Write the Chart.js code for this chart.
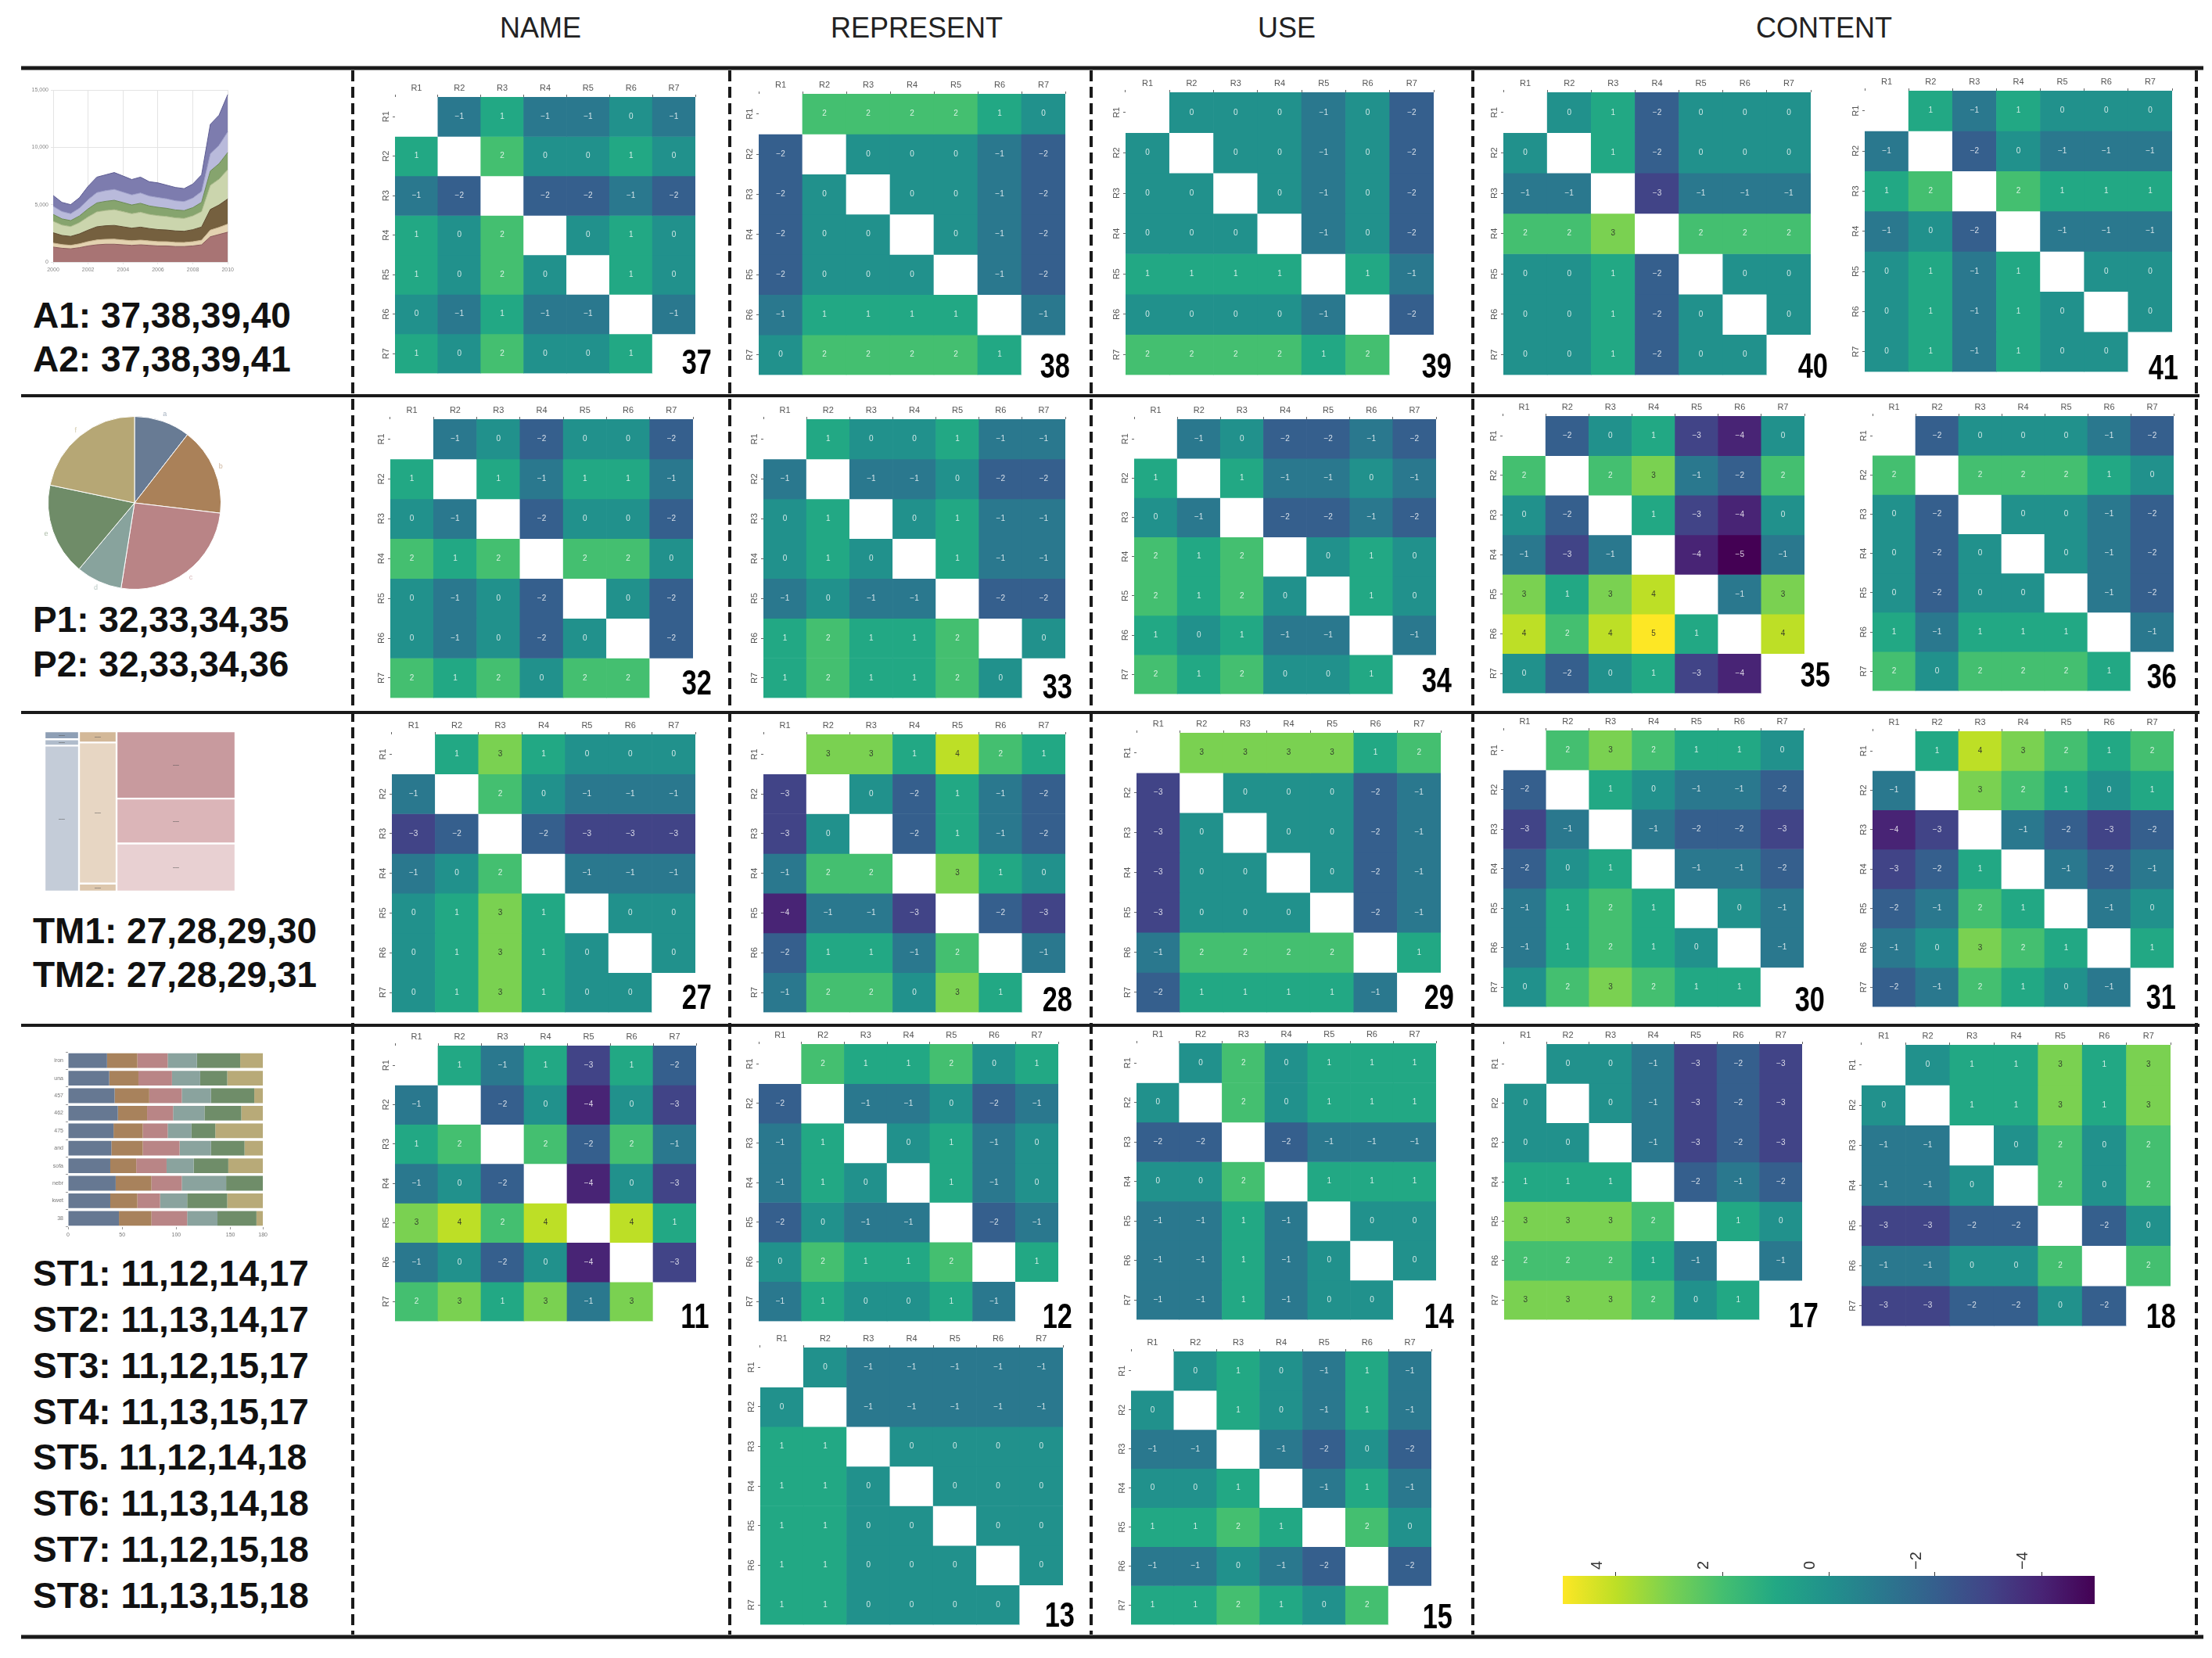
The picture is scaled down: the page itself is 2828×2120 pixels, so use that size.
<!DOCTYPE html>
<html>
<head>
<meta charset="utf-8">
<script src="https://cdn.jsdelivr.net/npm/chart.js@4.4.1/dist/chart.umd.min.js"></script>
<style>
  html, body { margin: 0; padding: 0; background: #fff; }
  body { position: relative; width: 2828px; height: 2120px; overflow: hidden; font-family: 'Liberation Sans', Arial, sans-serif; }
  canvas { position: absolute; }
  .head { position: absolute; top: 18px; font-size: 36px; line-height: 1; color: #222; transform: translateX(-50%); white-space: nowrap; }
  .combo { position: absolute; left: 42px; font-size: 46px; line-height: 1; font-weight: bold; color: #111; white-space: nowrap; }
  .num { position: absolute; font-size: 44px; line-height: 1; font-weight: bold; color: #000; transform-origin: right bottom; transform: scaleX(0.78); }
  svg { position: absolute; left: 0; top: 0; }
</style>
</head>
<body>
<svg width="2828" height="2120">
  <g stroke="#1a1a1a">
    <line x1="27" y1="87" x2="2817" y2="87" stroke-width="5"/>
    <line x1="27" y1="506" x2="2812" y2="506" stroke-width="4"/>
    <line x1="27" y1="911" x2="2812" y2="911" stroke-width="4"/>
    <line x1="27" y1="1311" x2="2812" y2="1311" stroke-width="4"/>
    <line x1="27" y1="2093" x2="2817" y2="2093" stroke-width="5"/>
  </g>
  <g stroke="#1a1a1a" stroke-width="4" stroke-dasharray="14 7">
    <line x1="451" y1="90" x2="451" y2="2090"/>
    <line x1="933" y1="90" x2="933" y2="2090"/>
    <line x1="1395" y1="90" x2="1395" y2="2090"/>
    <line x1="1883" y1="90" x2="1883" y2="2090"/>
    <line x1="2808" y1="90" x2="2808" y2="2090"/>
  </g>
</svg>
<script>
// ---- heatmap values (rows R1..R7, columns R1..R7, null = diagonal) ----
const gridLabels = ['R1', 'R2', 'R3', 'R4', 'R5', 'R6', 'R7'];

const hm37 = [[null,-1,1,-1,-1,0,-1],[1,null,2,0,0,1,0],[-1,-2,null,-2,-2,-1,-2],[1,0,2,null,0,1,0],[1,0,2,0,null,1,0],[0,-1,1,-1,-1,null,-1],[1,0,2,0,0,1,null]];
const hm38 = [[null,2,2,2,2,1,0],[-2,null,0,0,0,-1,-2],[-2,0,null,0,0,-1,-2],[-2,0,0,null,0,-1,-2],[-2,0,0,0,null,-1,-2],[-1,1,1,1,1,null,-1],[0,2,2,2,2,1,null]];
const hm39 = [[null,0,0,0,-1,0,-2],[0,null,0,0,-1,0,-2],[0,0,null,0,-1,0,-2],[0,0,0,null,-1,0,-2],[1,1,1,1,null,1,-1],[0,0,0,0,-1,null,-2],[2,2,2,2,1,2,null]];
const hm40 = [[null,0,1,-2,0,0,0],[0,null,1,-2,0,0,0],[-1,-1,null,-3,-1,-1,-1],[2,2,3,null,2,2,2],[0,0,1,-2,null,0,0],[0,0,1,-2,0,null,0],[0,0,1,-2,0,0,null]];
const hm41 = [[null,1,-1,1,0,0,0],[-1,null,-2,0,-1,-1,-1],[1,2,null,2,1,1,1],[-1,0,-2,null,-1,-1,-1],[0,1,-1,1,null,0,0],[0,1,-1,1,0,null,0],[0,1,-1,1,0,0,null]];

const hm32 = [[null,-1,0,-2,0,0,-2],[1,null,1,-1,1,1,-1],[0,-1,null,-2,0,0,-2],[2,1,2,null,2,2,0],[0,-1,0,-2,null,0,-2],[0,-1,0,-2,0,null,-2],[2,1,2,0,2,2,null]];
const hm33 = [[null,1,0,0,1,-1,-1],[-1,null,-1,-1,0,-2,-2],[0,1,null,0,1,-1,-1],[0,1,0,null,1,-1,-1],[-1,0,-1,-1,null,-2,-2],[1,2,1,1,2,null,0],[1,2,1,1,2,0,null]];
const hm34 = [[null,-1,0,-2,-2,-1,-2],[1,null,1,-1,-1,0,-1],[0,-1,null,-2,-2,-1,-2],[2,1,2,null,0,1,0],[2,1,2,0,null,1,0],[1,0,1,-1,-1,null,-1],[2,1,2,0,0,1,null]];
const hm35 = [[null,-2,0,1,-3,-4,0],[2,null,2,3,-1,-2,2],[0,-2,null,1,-3,-4,0],[-1,-3,-1,null,-4,-5,-1],[3,1,3,4,null,-1,3],[4,2,4,5,1,null,4],[0,-2,0,1,-3,-4,null]];
const hm36 = [[null,-2,0,0,0,-1,-2],[2,null,2,2,2,1,0],[0,-2,null,0,0,-1,-2],[0,-2,0,null,0,-1,-2],[0,-2,0,0,null,-1,-2],[1,-1,1,1,1,null,-1],[2,0,2,2,2,1,null]];

const hm27 = [[null,1,3,1,0,0,0],[-1,null,2,0,-1,-1,-1],[-3,-2,null,-2,-3,-3,-3],[-1,0,2,null,-1,-1,-1],[0,1,3,1,null,0,0],[0,1,3,1,0,null,0],[0,1,3,1,0,0,null]];
const hm28 = [[null,3,3,1,4,2,1],[-3,null,0,-2,1,-1,-2],[-3,0,null,-2,1,-1,-2],[-1,2,2,null,3,1,0],[-4,-1,-1,-3,null,-2,-3],[-2,1,1,-1,2,null,-1],[-1,2,2,0,3,1,null]];
const hm29 = [[null,3,3,3,3,1,2],[-3,null,0,0,0,-2,-1],[-3,0,null,0,0,-2,-1],[-3,0,0,null,0,-2,-1],[-3,0,0,0,null,-2,-1],[-1,2,2,2,2,null,1],[-2,1,1,1,1,-1,null]];
const hm30 = [[null,2,3,2,1,1,0],[-2,null,1,0,-1,-1,-2],[-3,-1,null,-1,-2,-2,-3],[-2,0,1,null,-1,-1,-2],[-1,1,2,1,null,0,-1],[-1,1,2,1,0,null,-1],[0,2,3,2,1,1,null]];
const hm31 = [[null,1,4,3,2,1,2],[-1,null,3,2,1,0,1],[-4,-3,null,-1,-2,-3,-2],[-3,-2,1,null,-1,-2,-1],[-2,-1,2,1,null,-1,0],[-1,0,3,2,1,null,1],[-2,-1,2,1,0,-1,null]];

const hm11 = [[null,1,-1,1,-3,1,-2],[-1,null,-2,0,-4,0,-3],[1,2,null,2,-2,2,-1],[-1,0,-2,null,-4,0,-3],[3,4,2,4,null,4,1],[-1,0,-2,0,-4,null,-3],[2,3,1,3,-1,3,null]];
const hm12 = [[null,2,1,1,2,0,1],[-2,null,-1,-1,0,-2,-1],[-1,1,null,0,1,-1,0],[-1,1,0,null,1,-1,0],[-2,0,-1,-1,null,-2,-1],[0,2,1,1,2,null,1],[-1,1,0,0,1,-1,null]];
const hm13 = [[null,0,-1,-1,-1,-1,-1],[0,null,-1,-1,-1,-1,-1],[1,1,null,0,0,0,0],[1,1,0,null,0,0,0],[1,1,0,0,null,0,0],[1,1,0,0,0,null,0],[1,1,0,0,0,0,null]];
const hm14 = [[null,0,2,0,1,1,1],[0,null,2,0,1,1,1],[-2,-2,null,-2,-1,-1,-1],[0,0,2,null,1,1,1],[-1,-1,1,-1,null,0,0],[-1,-1,1,-1,0,null,0],[-1,-1,1,-1,0,0,null]];
const hm15 = [[null,0,1,0,-1,1,-1],[0,null,1,0,-1,1,-1],[-1,-1,null,-1,-2,0,-2],[0,0,1,null,-1,1,-1],[1,1,2,1,null,2,0],[-1,-1,0,-1,-2,null,-2],[1,1,2,1,0,2,null]];
const hm17 = [[null,0,0,-1,-3,-2,-3],[0,null,0,-1,-3,-2,-3],[0,0,null,-1,-3,-2,-3],[1,1,1,null,-2,-1,-2],[3,3,3,2,null,1,0],[2,2,2,1,-1,null,-1],[3,3,3,2,0,1,null]];
const hm18 = [[null,0,1,1,3,1,3],[0,null,1,1,3,1,3],[-1,-1,null,0,2,0,2],[-1,-1,0,null,2,0,2],[-3,-3,-2,-2,null,-2,0],[-1,-1,0,0,2,null,2],[-3,-3,-2,-2,0,-2,null]];

// ---- thumbnail data ----
const areaYears = [2000,2000.5,2001,2001.5,2002,2002.5,2003,2003.5,2004,2004.5,2005,2005.5,2006,2006.5,2007,2007.5,2008,2008.5,2009,2009.5,2010];
const areaRose     = [1300,1200,1150,1250,1400,1500,1550,1550,1500,1450,1500,1450,1400,1400,1350,1350,1400,1500,2200,2400,2600];
const areaBeige    = [350,320,300,330,380,420,430,440,420,400,410,390,380,370,360,350,370,400,580,620,700];
const areaBrown    = [900,800,780,870,1000,1150,1180,1200,1150,1100,1130,1080,1050,1020,1000,980,1050,1150,1800,1950,2200];
const areaPale     = [1000,900,860,980,1150,1300,1330,1370,1320,1260,1300,1230,1210,1180,1140,1120,1200,1350,2100,2250,2550];
const areaGreen    = [600,540,520,580,700,780,800,820,790,760,780,740,730,710,690,680,720,800,1250,1350,1500];
const areaLavender = [700,640,600,680,800,900,930,950,910,880,900,860,850,830,800,790,840,950,1500,1600,1800];
const areaPurple   = [950,800,790,910,1170,1350,1380,1470,1410,1340,1380,1250,1280,1190,1160,1130,1220,1450,2570,2630,3250];

const pieLabels = ['a', 'b', 'c', 'd', 'e', 'f'];
const pieValues = [10.5, 16.4, 25.6, 8.6, 17.2, 21.7];

const tmCol1 = [5, 4, 91];
const tmCol2 = [7, 88, 5];
const tmCol3 = [42, 28, 30];

const stLabels = ['iron', 'una', '457', '462', '475', 'and', 'sofa', 'nebr', 'kwet', '38'];
const stSlate = [36, 38, 43, 46, 42, 40, 39, 44, 39, 47];
const stBrown = [28, 27, 32, 27, 27, 29, 24, 33, 25, 30];
const stPink  = [28, 31, 30, 24, 23, 34, 28, 28, 21, 33];
const stTeal  = [27, 26, 27, 29, 22, 29, 25, 41, 25, 28];
const stGreen = [40, 25, 40, 34, 22, 31, 32, 34, 37, 36];
const stKhaki = [21, 33, 8, 20, 44, 17, 32, 0, 33, 6];

const cbarTicks = [4, 2, 0, -2, -4];

// ---- page furniture ----
const FONT = "'Liberation Sans', Arial, sans-serif";
Chart.defaults.font.family = FONT;
Chart.defaults.animation = false;
Chart.defaults.responsive = false;
Chart.defaults.plugins.legend.display = false;
Chart.defaults.plugins.tooltip.enabled = false;

const viridis = ['#440154','#482475','#414487','#355f8d','#2a788e','#21918c','#22a884','#44bf70','#7ad151','#bddf26','#fde725'];
function cellColor(v) {
  if (v === null) return '#ffffff';
  return viridis[Math.max(0, Math.min(10, Math.round(v) + 5))];
}

function addDiv(cls, text, css) {
  const d = document.createElement('div');
  d.className = cls;
  d.textContent = text;
  Object.assign(d.style, css);
  document.body.appendChild(d);
  return d;
}

function addCanvas(left, top, w, h) {
  const cv = document.createElement('canvas');
  cv.width = w; cv.height = h;
  cv.style.left = left + 'px'; cv.style.top = top + 'px';
  cv.style.width = w + 'px'; cv.style.height = h + 'px';
  document.body.appendChild(cv);
  return cv;
}

[['NAME', 691], ['REPRESENT', 1172], ['USE', 1645], ['CONTENT', 2332]].forEach(([t, x]) => {
  addDiv('head', t, {left: x + 'px'});
});

const combos = [
  ['A1: 37,38,39,40', 402], ['A2: 37,38,39,41', 458],
  ['P1: 32,33,34,35', 791], ['P2: 32,33,34,36', 848],
  ['TM1: 27,28,29,30', 1189], ['TM2: 27,28,29,31', 1245],
  ['ST1: 11,12,14,17', 1627], ['ST2: 11,13,14,17', 1686], ['ST3: 11,12,15,17', 1745], ['ST4: 11,13,15,17', 1804],
  ['ST5. 11,12,14,18', 1862], ['ST6: 11,13,14,18', 1921], ['ST7: 11,12,15,18', 1980], ['ST8: 11,13,15,18', 2039]
];
combos.forEach(([t, cy]) => addDiv('combo', t, {top: (cy - 22.5) + 'px'}));

// ---- heatmaps ----
const cellText = {
  id: 'cellText',
  afterDatasetsDraw(chart) {
    const ctx = chart.ctx;
    ctx.save();
    ctx.font = '10px ' + FONT;
    ctx.textAlign = 'center';
    ctx.textBaseline = 'middle';
    chart.data.datasets.forEach((ds, r) => {
      chart.getDatasetMeta(r).data.forEach((bar, c) => {
        const v = ds.values[c];
        if (v === null) return;
        ctx.fillStyle = v >= 3 ? 'rgba(40,40,40,0.85)' : 'rgba(255,255,255,0.8)';
        ctx.fillText(v < 0 ? '\u2212' + Math.abs(v) : String(v), bar.x, (bar.y + bar.base) / 2);
      });
    });
    ctx.restore();
  }
};

function heatmap(L) {
  const padL = 36, padT = 36;
  const w = L.x1 - L.x0, h = L.y1 - L.y0;
  const cv = addCanvas(L.x0 - padL, L.y0 - padT, w + padL + 2, h + padT + 2);
  const tickFont = {size: 11, family: FONT};
  new Chart(cv, {
    type: 'bar',
    data: {
      labels: gridLabels,
      datasets: L.m.map((row, r) => ({
        label: gridLabels[r],
        data: row.map(() => 1),
        values: row,
        backgroundColor: row.map(cellColor),
        borderWidth: 0,
        barPercentage: 1,
        categoryPercentage: 1
      }))
    },
    options: {
      layout: {padding: {right: 2, bottom: 2}},
      scales: {
        x: {
          position: 'top', stacked: true,
          grid: {drawOnChartArea: false, tickLength: 3, color: '#666'},
          border: {display: false},
          ticks: {font: tickFont, color: '#555', padding: 1, maxRotation: 0, minRotation: 0, autoSkip: false},
          afterFit: s => { s.height = padT; }
        },
        y: {
          stacked: true, reverse: true, min: 0, max: 7,
          grid: {drawOnChartArea: false, tickLength: 3, color: '#666'},
          border: {display: false},
          afterBuildTicks: s => { s.ticks = gridLabels.map((_, i) => ({value: i + 0.5})); },
          ticks: {font: tickFont, color: '#555', padding: 1, minRotation: 90, maxRotation: 90, crossAlign: 'center',
                  callback: v => gridLabels[Math.floor(v)]},
          afterFit: s => { s.width = padL; }
        }
      }
    },
    plugins: [cellText]
  });
  addDiv('num', String(L.id), {right: (2828 - L.nr) + 'px', top: (L.nb - 37.2) + 'px'});
}

const heatLayout = [
  {id: 37, m: hm37, x0: 505,  y0: 124, x1: 889,  y1: 483, nr: 910,  nb: 478},
  {id: 38, m: hm38, x0: 970,  y0: 120, x1: 1362, y1: 485, nr: 1368, nb: 483},
  {id: 39, m: hm39, x0: 1439, y0: 118, x1: 1833, y1: 485, nr: 1856, nb: 483},
  {id: 40, m: hm40, x0: 1922, y0: 118, x1: 2315, y1: 485, nr: 2337, nb: 483},
  {id: 41, m: hm41, x0: 2384, y0: 116, x1: 2777, y1: 481, nr: 2785, nb: 485},
  {id: 32, m: hm32, x0: 499,  y0: 536, x1: 886,  y1: 898, nr: 910,  nb: 888},
  {id: 33, m: hm33, x0: 976,  y0: 536, x1: 1362, y1: 898, nr: 1371, nb: 893},
  {id: 34, m: hm34, x0: 1450, y0: 536, x1: 1836, y1: 893, nr: 1856, nb: 885},
  {id: 35, m: hm35, x0: 1921, y0: 532, x1: 2307, y1: 892, nr: 2340, nb: 878},
  {id: 36, m: hm36, x0: 2394, y0: 532, x1: 2779, y1: 889, nr: 2783, nb: 880},
  {id: 27, m: hm27, x0: 501,  y0: 939, x1: 889,  y1: 1300, nr: 910, nb: 1290},
  {id: 28, m: hm28, x0: 976,  y0: 939, x1: 1362, y1: 1300, nr: 1371, nb: 1293},
  {id: 29, m: hm29, x0: 1453, y0: 937, x1: 1842, y1: 1300, nr: 1859, nb: 1290},
  {id: 30, m: hm30, x0: 1922, y0: 934, x1: 2306, y1: 1293, nr: 2333, nb: 1293},
  {id: 31, m: hm31, x0: 2394, y0: 935, x1: 2779, y1: 1293, nr: 2782, nb: 1290},
  {id: 11, m: hm11, x0: 505,  y0: 1337, x1: 890,  y1: 1695, nr: 907,  nb: 1698},
  {id: 12, m: hm12, x0: 970,  y0: 1335, x1: 1353, y1: 1695, nr: 1371, nb: 1698},
  {id: 14, m: hm14, x0: 1453, y0: 1334, x1: 1836, y1: 1693, nr: 1859, nb: 1698},
  {id: 17, m: hm17, x0: 1923, y0: 1335, x1: 2304, y1: 1693, nr: 2325, nb: 1697},
  {id: 18, m: hm18, x0: 2380, y0: 1336, x1: 2775, y1: 1701, nr: 2782, nb: 1698},
  {id: 13, m: hm13, x0: 972,  y0: 1723, x1: 1359, y1: 2083, nr: 1374, nb: 2080},
  {id: 15, m: hm15, x0: 1446, y0: 1728, x1: 1830, y1: 2083, nr: 1857, nb: 2082}
];
heatLayout.forEach(heatmap);

// ---- stacked area thumbnail ----
const smallTick = {size: 7, family: FONT};
const areaSeries = [
  [areaRose, '#a87474', '#8a5a5a'], [areaBeige, '#e3d2b0', '#c9b48f'], [areaBrown, '#75603f', '#5e4b30'],
  [areaPale, '#cbd5ad', '#aab98a'], [areaGreen, '#86a46e', '#6b8a56'], [areaLavender, '#b9badb', '#9a9bc6'],
  [areaPurple, '#7d7cae', '#5f5e94']
];
new Chart(addCanvas(30, 105, 272, 250), {
  type: 'line',
  data: {
    labels: areaYears,
    datasets: areaSeries.map(([d, f, b], i) => ({
      data: d, backgroundColor: f, borderColor: b, borderWidth: 1,
      pointRadius: 0, fill: i === 0 ? 'origin' : '-1', tension: 0
    }))
  },
  options: {
    layout: {padding: {top: 10, right: 5}},
    scales: {
      x: {
        grid: {color: c => (areaYears[c.index] % 2 === 0 ? '#e4e4e4' : 'rgba(0,0,0,0)'), tickLength: 3},
        border: {display: false},
        ticks: {font: smallTick, color: '#888', autoSkip: false, maxRotation: 0,
                callback: (v, i) => (areaYears[i] % 2 === 0 ? String(areaYears[i]) : '')},
        afterFit: s => { s.height = 20; }
      },
      y: {
        stacked: true, min: 0, max: 15000,
        grid: {color: '#e4e4e4', tickLength: 3},
        border: {display: false},
        ticks: {font: smallTick, color: '#888', stepSize: 5000},
        afterFit: s => { s.width = 38; }
      }
    }
  }
});

// ---- pie thumbnail ----
const pieColors = ['#687b94', '#aa8159', '#b98486', '#88a39d', '#6f8c68', '#b6a775'];
const pieText = {
  id: 'pieText',
  afterDatasetsDraw(chart) {
    const ctx = chart.ctx;
    ctx.save();
    ctx.font = '9px ' + FONT;
    ctx.textAlign = 'center';
    ctx.textBaseline = 'middle';
    chart.getDatasetMeta(0).data.forEach((arc, i) => {
      const a = (arc.startAngle + arc.endAngle) / 2;
      const r = arc.outerRadius + 9;
      ctx.fillStyle = pieColors[i];
      ctx.globalAlpha = 0.6;
      ctx.fillText(pieLabels[i], arc.x + Math.cos(a) * r, arc.y + Math.sin(a) * r);
    });
    ctx.restore();
  }
};
new Chart(addCanvas(42, 513, 260, 260), {
  type: 'pie',
  data: {labels: pieLabels, datasets: [{data: pieValues, backgroundColor: pieColors, borderColor: '#ffffff', borderWidth: 1}]},
  options: {layout: {padding: 19}},
  plugins: [pieText]
});

// ---- treemap thumbnail (three stacked columns) ----
const tmText = {
  id: 'tmText',
  afterDatasetsDraw(chart) {
    const ctx = chart.ctx;
    ctx.save();
    ctx.fillStyle = '#555';
    ctx.font = '7px ' + FONT;
    ctx.textAlign = 'center';
    ctx.textBaseline = 'middle';
    chart.data.datasets.forEach((ds, i) => {
      const bar = chart.getDatasetMeta(i).data[0];
      ctx.fillText('\u2013\u2013', bar.x, (bar.y + bar.base) / 2);
    });
    ctx.restore();
  }
};
function treemapColumn(values, colors, left, width) {
  new Chart(addCanvas(left, 935, width, 205), {
    type: 'bar',
    data: {
      labels: [''],
      datasets: values.map((v, i) => ({
        data: [v], backgroundColor: colors[i], borderColor: '#ffffff', borderWidth: 1.5,
        borderSkipped: false, barPercentage: 1, categoryPercentage: 1
      }))
    },
    options: {
      scales: {
        x: {display: false, stacked: true},
        y: {display: false, stacked: true, reverse: true, min: 0, max: 100}
      }
    },
    plugins: [tmText]
  });
}
treemapColumn(tmCol1, ['#8e9fb5', '#b0bccb', '#c4ccd8'], 57, 44);
treemapColumn(tmCol2, ['#d3b898', '#e7d6c3', '#ddc7ad'], 101, 48);
treemapColumn(tmCol3, ['#c89a9e', '#dbb5b8', '#e8d0d2'], 149, 152);

// ---- stacked horizontal bar thumbnail ----
const stSeries = [
  [stSlate, '#667892'], [stBrown, '#a8825c'], [stPink, '#b98586'],
  [stTeal, '#8aa39e'], [stGreen, '#6f8d69'], [stKhaki, '#b8aa78']
];
new Chart(addCanvas(30, 1335, 315, 254), {
  type: 'bar',
  data: {
    labels: stLabels,
    datasets: stSeries.map(([d, c]) => ({data: d, backgroundColor: c, borderWidth: 0, barPercentage: 0.84, categoryPercentage: 1}))
  },
  options: {
    indexAxis: 'y',
    layout: {padding: {top: 10, right: 7}},
    scales: {
      x: {
        stacked: true, min: 0, max: 180,
        grid: {drawOnChartArea: false, tickLength: 3, color: '#999'},
        border: {display: false},
        ticks: {font: smallTick, color: '#777', stepSize: 50},
        afterFit: s => { s.height = 20; }
      },
      y: {
        stacked: true,
        grid: {drawOnChartArea: false, tickLength: 3, color: '#999'},
        border: {display: false},
        ticks: {font: smallTick, color: '#777'},
        afterFit: s => { s.width = 57; }
      }
    }
  }
});

// ---- colour bar ----
new Chart(addCanvas(1990, 1955, 700, 100), {
  type: 'bar',
  data: {
    labels: [''],
    datasets: [{
      data: [[-5, 5]],
      borderWidth: 0, barPercentage: 1, categoryPercentage: 1,
      backgroundColor: ctx => {
        const area = ctx.chart.chartArea;
        if (!area) return viridis[5];
        const g = ctx.chart.ctx.createLinearGradient(area.left, 0, area.right, 0);
        viridis.slice().reverse().forEach((c, i) => g.addColorStop(i / 10, c));
        return g;
      }
    }]
  },
  options: {
    indexAxis: 'y',
    layout: {padding: {left: 8, right: 12, bottom: 4}},
    scales: {
      x: {
        position: 'top', min: -5, max: 5, reverse: true,
        afterBuildTicks: s => { s.ticks = cbarTicks.map(v => ({value: v})); },
        grid: {drawOnChartArea: false, tickLength: 5, color: '#333'},
        border: {display: false},
        ticks: {font: {size: 20, family: FONT}, color: '#333', padding: 3, minRotation: 90, maxRotation: 90,
                callback: v => (v < 0 ? '\u2212' + Math.abs(v) : String(v))},
        afterFit: s => { s.height = 60; }
      },
      y: {display: false}
    }
  }
});
</script>
</body>
</html>
